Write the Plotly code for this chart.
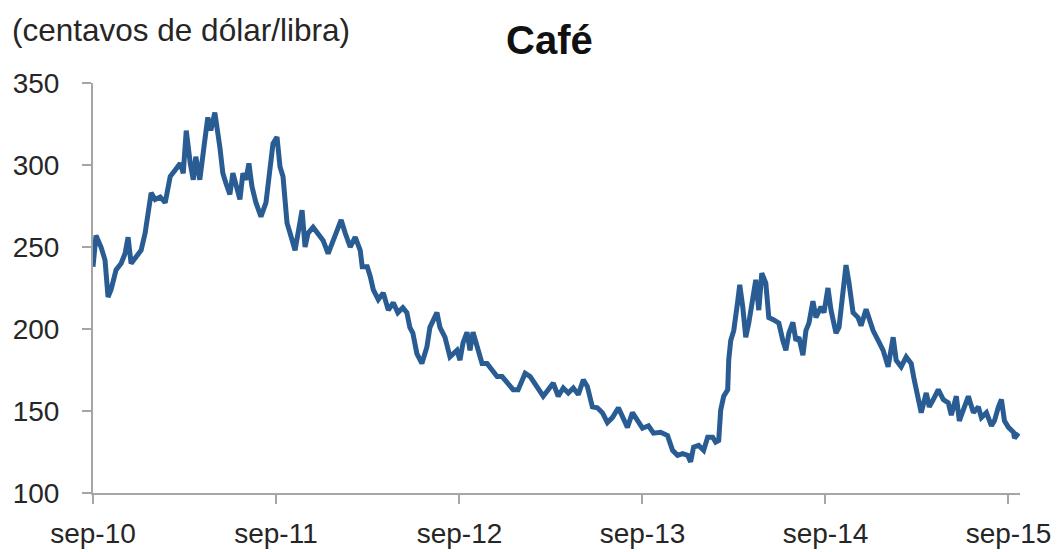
import plotly.graph_objects as go

# Coffee price, US cents per pound
dates = [
    "2010-09-01", "2010-09-07", "2010-09-17", "2010-09-25", "2010-10-01", "2010-10-07",
    "2010-10-17", "2010-10-27", "2010-11-04", "2010-11-10", "2010-11-16", "2010-11-26",
    "2010-12-06", "2010-12-14", "2010-12-20", "2010-12-26", "2011-01-03", "2011-01-13",
    "2011-01-23", "2011-02-02", "2011-02-12", "2011-02-22", "2011-02-28", "2011-03-06",
    "2011-03-14", "2011-03-20", "2011-03-25", "2011-04-02", "2011-04-12", "2011-04-18",
    "2011-04-24", "2011-05-02", "2011-05-12", "2011-05-18", "2011-05-24", "2011-06-01",
    "2011-06-07", "2011-06-13", "2011-06-21", "2011-06-27", "2011-07-03", "2011-07-09",
    "2011-07-15", "2011-07-23", "2011-08-02", "2011-08-12", "2011-08-20", "2011-08-26",
    "2011-09-03", "2011-09-09", "2011-09-15", "2011-09-19", "2011-09-23", "2011-09-29",
    "2011-10-09", "2011-10-15", "2011-10-23", "2011-10-29", "2011-11-04", "2011-11-14",
    "2011-11-24", "2011-12-04", "2011-12-14", "2011-12-24", "2012-01-03", "2012-01-09",
    "2012-01-17", "2012-01-27", "2012-02-06", "2012-02-16", "2012-02-20", "2012-03-01",
    "2012-03-07", "2012-03-13", "2012-03-23", "2012-04-02", "2012-04-12", "2012-04-22",
    "2012-05-01", "2012-05-11", "2012-05-19", "2012-05-25", "2012-05-31", "2012-06-08",
    "2012-06-18", "2012-06-28", "2012-07-04", "2012-07-18", "2012-07-24", "2012-08-03",
    "2012-08-13", "2012-08-27", "2012-09-02", "2012-09-08", "2012-09-16", "2012-09-22",
    "2012-09-28", "2012-10-06", "2012-10-16", "2012-10-26", "2012-11-05", "2012-11-15",
    "2012-11-25", "2012-12-05", "2012-12-17", "2012-12-27", "2013-01-10", "2013-01-20",
    "2013-02-03", "2013-02-15", "2013-02-25", "2013-03-07", "2013-03-17", "2013-03-27",
    "2013-04-06", "2013-04-16", "2013-04-26", "2013-05-06", "2013-05-14", "2013-05-24",
    "2013-06-03", "2013-06-13", "2013-06-23", "2013-07-03", "2013-07-15", "2013-07-23",
    "2013-08-02", "2013-08-12", "2013-08-22", "2013-09-01", "2013-09-13", "2013-09-23",
    "2013-10-07", "2013-10-21", "2013-10-31", "2013-11-10", "2013-11-20", "2013-11-30",
    "2013-12-06", "2013-12-12", "2013-12-22", "2014-01-01", "2014-01-09", "2014-01-19",
    "2014-01-25", "2014-01-31", "2014-02-04", "2014-02-10", "2014-02-18", "2014-02-20",
    "2014-02-24", "2014-03-02", "2014-03-10", "2014-03-14", "2014-03-20", "2014-03-26",
    "2014-04-01", "2014-04-09", "2014-04-15", "2014-04-21", "2014-04-27", "2014-05-05",
    "2014-05-11", "2014-05-21", "2014-05-31", "2014-06-08", "2014-06-14", "2014-06-20",
    "2014-06-28", "2014-07-04", "2014-07-10", "2014-07-18", "2014-07-24", "2014-07-30",
    "2014-08-07", "2014-08-13", "2014-08-23", "2014-08-29", "2014-09-06", "2014-09-12",
    "2014-09-22", "2014-09-28", "2014-10-06", "2014-10-12", "2014-10-18", "2014-10-26",
    "2014-11-05", "2014-11-11", "2014-11-21", "2014-11-27", "2014-12-05", "2014-12-15",
    "2014-12-25", "2015-01-04", "2015-01-14", "2015-01-20", "2015-01-30", "2015-02-09",
    "2015-02-19", "2015-02-25", "2015-03-05", "2015-03-11", "2015-03-21", "2015-03-27",
    "2015-04-04", "2015-04-14", "2015-04-24", "2015-05-04", "2015-05-10", "2015-05-20",
    "2015-05-26", "2015-06-03", "2015-06-13", "2015-06-23", "2015-07-03", "2015-07-09",
    "2015-07-19", "2015-07-29", "2015-08-04", "2015-08-12", "2015-08-18", "2015-08-24",
    "2015-09-01", "2015-09-11", "2015-09-13", "2015-09-21",
]

prices = [
    238, 257, 250, 242, 219.5, 224,
    236, 240, 246, 256, 240, 244,
    248, 258.5, 272.5, 283, 279, 280.5,
    277, 293, 297, 301, 295, 321,
    301, 291, 305, 291, 315, 329,
    321, 332, 311, 295, 289, 282,
    295, 287, 279, 295, 291, 301,
    287, 277, 268.5, 277, 299, 313,
    317, 299, 293, 279, 264.6, 258.5,
    248, 258.5, 272.5, 250, 258.5, 262,
    258.5, 254, 246, 254, 260, 266.5,
    258.5, 250, 256, 248, 238, 238,
    232, 224, 218, 222, 211.5, 216,
    210, 213, 210, 201, 197.5, 185,
    179, 189, 201, 210, 201, 195,
    183, 187, 181, 191.5, 198, 187,
    198, 189, 179, 179, 175, 171,
    171, 167, 163, 163, 173, 171,
    165, 159, 163, 167, 159, 164,
    161, 164, 160, 169, 165, 152.5,
    152, 149, 143, 146, 152, 146,
    140, 149, 144, 139.5, 141, 136.5,
    137, 135, 126, 123, 124, 123,
    119, 128, 129, 126, 134, 134,
    131, 132, 150.5, 159, 163, 181,
    193, 199, 217, 227, 213.5, 195,
    203.6, 217, 230, 211.5, 234, 228,
    207, 205.5, 203.6, 193, 187, 197.5,
    204, 193, 195, 184, 199, 203.6,
    217, 207, 213.5, 210, 225, 211.5,
    197.5, 201, 222, 239, 228, 210,
    207, 202, 212, 207, 199, 193,
    187, 177, 195, 181, 177, 183,
    179, 169, 157, 149, 161, 152.5,
    157, 163, 157, 155, 147.5, 159,
    144, 150, 159, 149, 152.5, 146,
    149, 141, 144, 152.5, 157, 144,
    140, 137, 133.5, 136.5,
]

tick_dates = ["2010-09-01", "2011-09-01", "2012-09-01", "2013-09-01", "2014-09-01", "2015-09-01"]
tick_labels = ["sep-10", "sep-11", "sep-12", "sep-13", "sep-14", "sep-15"]
y_ticks = [100, 150, 200, 250, 300, 350]

title_text = "Café"
unit_text = "(centavos de dólar/libra)"

FONT = "Liberation Sans, Arial, Helvetica, sans-serif"
TEXT_COLOR = "#262626"
AXIS_COLOR = "#A6A6A6"

fig = go.Figure()
fig.add_trace(go.Scatter(
    x=dates, y=prices, mode="lines",
    line=dict(color="#2A5C94", width=5),
    hoverinfo="x+y", showlegend=False,
))

# The page body has an 8px default margin, so the figure is 8px smaller
# than the window and its margins are reduced by 8px accordingly.
fig.update_layout(
    width=1053, height=544,
    margin=dict(l=85, r=41, t=75, b=59, autoexpand=False),
    paper_bgcolor="white", plot_bgcolor="white",
    font=dict(family=FONT, color=TEXT_COLOR, size=28),
    annotations=[
        dict(
            text=unit_text, xref="paper", yref="paper",
            x=-83 / 927, y=1 + 53 / 410, xanchor="left", yanchor="middle",
            showarrow=False, font=dict(family=FONT, size=31.5, color=TEXT_COLOR),
        ),
        dict(
            text="<b>" + title_text + "</b>", xref="paper", yref="paper",
            x=(549 - 93) / 927, y=1 + 43 / 410, xanchor="center", yanchor="middle",
            showarrow=False, font=dict(family=FONT, size=40, color="#111111"),
        ),
    ],
)

fig.update_xaxes(
    type="date",
    range=["2010-09-01", "2015-09-24"],
    tickmode="array", tickvals=tick_dates, ticktext=tick_labels,
    showgrid=False, zeroline=False, automargin=False,
    showline=True, linecolor=AXIS_COLOR, linewidth=2,
    ticks="outside", ticklen=9, tickwidth=2, tickcolor=AXIS_COLOR,
    tickfont=dict(family=FONT, size=28, color=TEXT_COLOR),
    ticklabelstandoff=5,
)
fig.update_yaxes(
    range=[100, 350],
    tickmode="array", tickvals=y_ticks,
    showgrid=False, zeroline=False, automargin=False,
    showline=True, linecolor=AXIS_COLOR, linewidth=2,
    ticks="outside", ticklen=9, tickwidth=2, tickcolor=AXIS_COLOR,
    tickfont=dict(family=FONT, size=28, color=TEXT_COLOR),
    ticklabelstandoff=17,
)

fig.write_html("out.html")
